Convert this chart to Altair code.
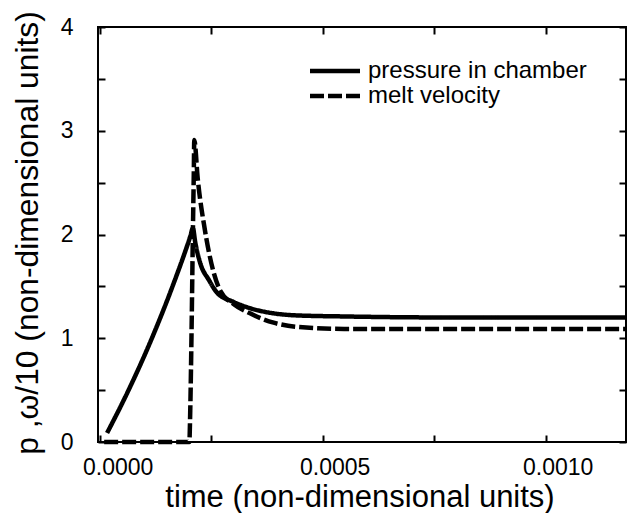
import altair as alt
import pandas as pd

series_names = ["pressure in chamber", "melt velocity"]

pressure_t = [0.0000166, 0.0000614, 0.000117, 0.000165, 0.000203, 0.000209, 0.000214,
              0.000225, 0.000245, 0.000263, 0.0003, 0.000337, 0.00039, 0.000443,
              0.00055, 0.0008, 0.00118]
pressure_v = [0.087, 0.47, 1.0, 1.52, 1.98, 2.06, 1.93,
              1.73, 1.56, 1.44, 1.35, 1.29, 1.24, 1.22,
              1.21, 1.20, 1.20]

velocity_t = [0.00001, 0.000201, 0.000203, 0.000206, 0.000209, 0.000211, 0.000212,
              0.00022, 0.000236, 0.00027, 0.0003, 0.000337, 0.00039, 0.000443, 0.00055, 0.00118]
velocity_v = [0.0, 0.0, 0.3, 1.08, 2.04, 2.6, 2.91,
              2.53, 2.04, 1.46, 1.33, 1.24, 1.15, 1.11, 1.09, 1.09]

x_major = [0.0, 0.0005, 0.0010]
x_all = [0.0, 0.00025, 0.0005, 0.00075, 0.0010]
y_major = [0, 1, 2, 3, 4]
y_all = [0, 0.5, 1, 1.5, 2, 2.5, 3, 3.5, 4]

df = pd.concat([
    pd.DataFrame({"t": pressure_t, "v": pressure_v, "series": series_names[0]}),
    pd.DataFrame({"t": velocity_t, "v": velocity_v, "series": series_names[1]}),
])

FONT = "Liberation Sans"
xs = alt.Scale(domain=[-0.0000038, 0.00118], nice=False, zero=False)
ys = alt.Scale(domain=[0, 4], nice=False, zero=False)

lines = alt.Chart(df).mark_line(strokeWidth=4.5, color="black", strokeCap="butt",
                                interpolate="monotone").encode(
    x=alt.X("t:Q", scale=xs, axis=alt.Axis(
        orient="bottom", values=x_major, format=".4f", ticks=False, tickSize=0,
        domain=False, grid=False, labelFontSize=23, labelPadding=14,
        labelOffset={"condition": {"test": "datum.value == 0", "value": 18}, "value": 12},
        title="time (non-dimensional units)", titleFontSize=31,
        titleX=261.5, titleY=64, titleAlign="center", titleBaseline="alphabetic")),
    y=alt.Y("v:Q", scale=ys, axis=alt.Axis(
        orient="left", values=y_major, format="d", ticks=False, tickSize=0,
        domain=False, grid=False, labelFontSize=23, labelPadding=25,
        title="p ,ω/10 (non-dimensional units)", titleFontSize=31.8,
        titleAngle=270, titleX=-61, titleY=205.5, titleAlign="center",
        titleBaseline="alphabetic")),
    strokeDash=alt.StrokeDash("series:N", scale=alt.Scale(
        domain=series_names, range=[[1, 0], [14, 4]]),
        legend=alt.Legend(title=None, orient="none", legendX=224.5, legendY=31.5,
                          symbolType="M-2.5,0H2.5", symbolSize=400, symbolStrokeWidth=4.5,
                          symbolStrokeColor="black", symbolFillColor="transparent",
                          labelFontSize=24, labelFont=FONT,
                          labelColor="black", labelOffset=20.5, labelLimit=500,
                          rowPadding=-1, padding=0)),
)

def tick_layer(xo, yo):
    return alt.Chart(df).mark_point(opacity=0).encode(
        x=alt.X("t:Q", scale=xs, axis=alt.Axis(
            orient=xo, offset=-7, values=x_all, labels=False, domain=False,
            grid=False, tickSize=7, tickWidth=2, tickColor="black", title=None)),
        y=alt.Y("v:Q", scale=ys, axis=alt.Axis(
            orient=yo, offset=-7, values=y_all, labels=False, domain=False,
            grid=False, tickSize=7, tickWidth=2, tickColor="black", title=None)),
    )

chart = alt.layer(lines, tick_layer("bottom", "left"), tick_layer("top", "right")).resolve_axis(
    x="independent", y="independent"
).properties(
    width=528, height=415,
    autosize=alt.AutoSizeParams(type="none"),
    padding={"left": 90, "top": 19, "right": 1, "bottom": 71},
).configure_view(stroke="black", strokeWidth=2).configure_axis(
    labelFont=FONT, titleFont=FONT, labelColor="black", titleColor="black",
    titleFontWeight="normal"
)

chart.save("out.html", embed_options={"renderer": "svg", "actions": False})
